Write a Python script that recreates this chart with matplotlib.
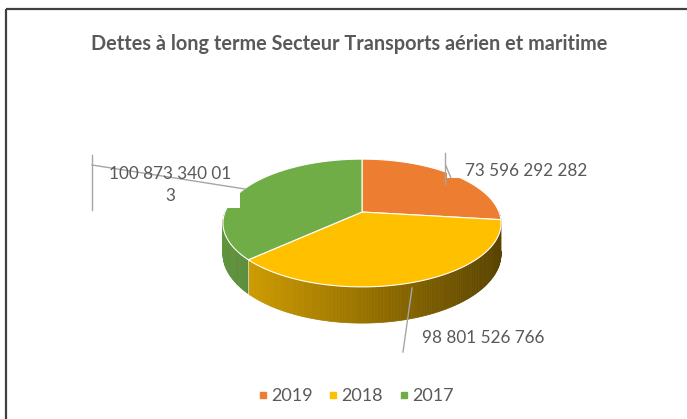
import numpy as np
import matplotlib.pyplot as plt
from matplotlib.patches import Polygon, Rectangle
from matplotlib.lines import Line2D

# données du graphique
annees = ['2019', '2018', '2017']
valeurs = [73596292282, 98801526766, 100873340013]
etiquettes = ['73 596 292 282', '98 801 526 766', '100 873 340 01\n3']
couleurs = ['#ED7D31', '#FFC000', '#70AD47']
titre = 'Dettes à long terme Secteur Transports aérien et maritime'

plt.rcParams['font.family'] = ['Lato', 'DejaVu Sans']
gris = '#595959'

fig = plt.figure(figsize=(6.87, 4.19), dpi=100)
ax = fig.add_axes([0, 0, 1, 1])
ax.set_xlim(0, 687)
ax.set_ylim(419, 0)
ax.axis('off')

# camembert 3D (projection simple avec un peu de perspective)
cx, cy = 362, 212
A, B, p, D = 137, 62, 0.172, 30


def proj(theta, depth=0.0):
    u = np.sin(theta)
    v = -np.cos(theta)
    s = 1 / (1 - p * v)
    return cx + A * u * s, cy + B * v * s + depth * s


fractions = np.array(valeurs) / np.sum(valeurs)
bornes = np.concatenate([[0], np.cumsum(fractions)]) * 2 * np.pi

# faces latérales (partie avant seulement)
for i in range(len(valeurs)):
    t0 = max(bornes[i], np.pi / 2)
    t1 = min(bornes[i + 1], 3 * np.pi / 2)
    if t1 <= t0:
        continue
    th = np.linspace(t0, t1, max(int(np.degrees(t1 - t0)), 2))
    base = np.array(plt.matplotlib.colors.to_rgb(couleurs[i]))
    for a0, a1 in zip(th[:-1], th[1:]):
        x0, y0 = proj(a0)
        x1, y1 = proj(a1)
        x2, y2 = proj(a1, D)
        x3, y3 = proj(a0, D)
        t = np.clip(((x0 + x1) / 2 - 225) / 275, 0, 1)
        f = 0.85 - 0.5 * t
        c = base * f
        ax.add_patch(Polygon([(x0, y0), (x1, y1), (x2, y2), (x3, y3)],
                             closed=True, facecolor=c, edgecolor=c, lw=0.5, zorder=2))
    # séparation claire entre les tranches sur le côté
    if np.pi / 2 < bornes[i] < 3 * np.pi / 2:
        xa, ya = proj(bornes[i])
        xb, yb = proj(bornes[i], D)
        ax.plot([xa, xb], [ya, yb], color='white', lw=0.6, alpha=0.7, zorder=2.5)

# faces du dessus
for i in range(len(valeurs)):
    th = np.linspace(bornes[i], bornes[i + 1], 120)
    xs, ys = proj(th)
    pts = [(cx, cy)] + list(zip(xs, ys))
    ax.add_patch(Polygon(pts, closed=True, facecolor=couleurs[i], edgecolor='white',
                         lw=0.8, zorder=3))

# cadres blancs des étiquettes (ils masquent un coin du camembert)
ax.add_patch(Rectangle((88, 150), 152, 58, facecolor='white', edgecolor='none', zorder=4))
ax.add_patch(Rectangle((447, 150), 150, 28, facecolor='white', edgecolor='none', zorder=4))

# lignes de rappel
ligne = dict(color='#a6a6a6', lw=1.0, zorder=5)
ax.plot([92, 92], [155, 210], **ligne)
ax.plot([92, 245], [165, 189], **ligne)
ax.plot([445, 445], [153, 184], **ligne)
ax.plot([446, 451], [166, 178], **ligne)
ax.plot([412, 403], [288, 352], **ligne)

# étiquettes de valeurs
ax.text(465, 171, etiquettes[0], ha='left', va='center', fontsize=12.3, color=gris, zorder=6)
ax.text(422, 338, etiquettes[1], ha='left', va='center', fontsize=12.3, color=gris, zorder=6)
ax.text(170, 185, etiquettes[2], ha='center', va='center', fontsize=12.3, color=gris,
        linespacing=1.5, zorder=6)

# titre
ax.text(349, 44, titre, ha='center', va='center', fontsize=14.3, fontweight='bold', color=gris)

# bordure (haut et gauche)
ax.plot([6, 687], [9, 9], color='#404040', lw=1.6, solid_capstyle='butt')
ax.plot([6, 6], [9, 419], color='#404040', lw=1.6, solid_capstyle='butt')

# légende
poignees = [Line2D([], [], ls='none', marker='s', markersize=5, color=c) for c in couleurs]
ax.legend(poignees, annees, loc='center', bbox_to_anchor=(356 / 687, 1 - 396 / 419), ncol=3,
          frameon=False, fontsize=13, labelcolor=gris, handlelength=0.5,
          handletextpad=0.2, columnspacing=0.9)

fig.savefig('out.png', dpi=100)
